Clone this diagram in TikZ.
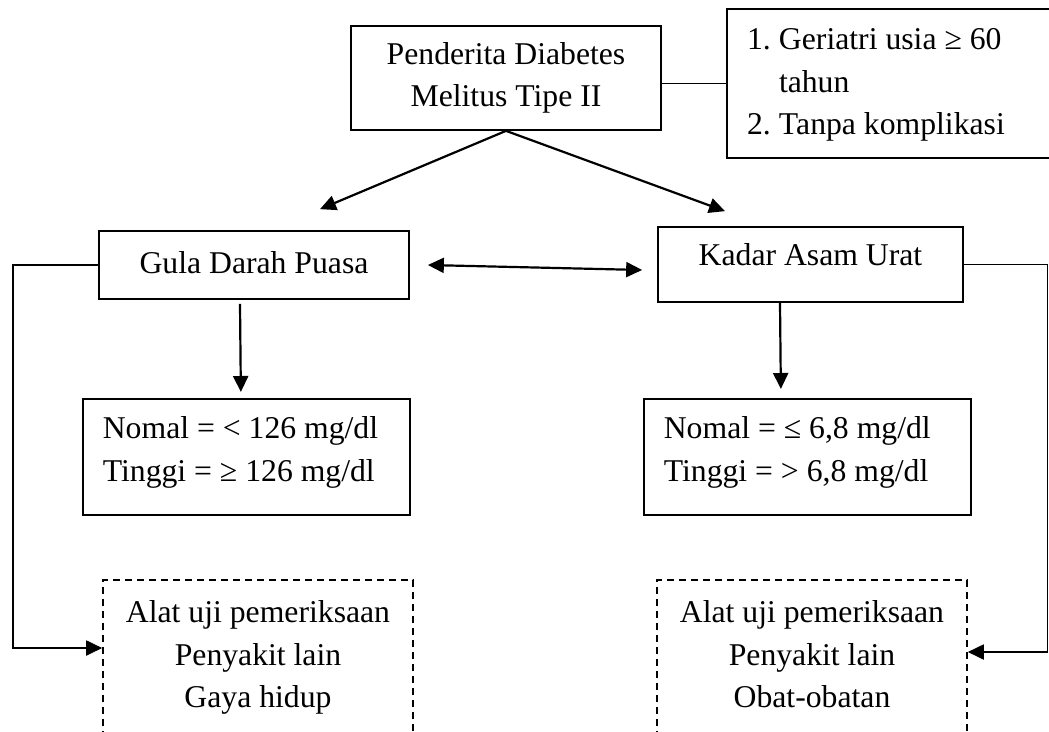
\documentclass[tikz,border=0pt]{standalone}
\usepackage{fontspec}
\setmainfont{Liberation Serif}
\usetikzlibrary{arrows.meta}
\begin{document}
\begin{tikzpicture}[x=1pt,y=-1pt,
  every node/.style={font=\fontsize{31.7pt}{42.5pt}\selectfont},
  box/.style={draw, line width=1.7pt, inner sep=0pt, align=center},
  lbox/.style={draw, line width=1.7pt, inner sep=0pt, anchor=north west, minimum width=327pt, minimum height=116pt},
  dbox/.style={draw, line width=1.6pt, dash pattern=on 7pt off 5pt, inner xsep=0pt, inner ysep=21pt, align=center, anchor=north, minimum width=310pt},
  tip/.tip={Triangle[length=16pt,width=15pt]},
  arr/.style={line width=2.2pt, -tip},
  darr/.style={line width=2.2pt, tip-tip},
  link/.style={line width=1.8pt},
  elbow/.style={line width=1.9pt, -tip, line join=miter},
]
\useasboundingbox (0,0) rectangle (1049,731);
\clip (0,0) rectangle (1049,731);
\fill[white] (0,0) rectangle (1049,731);

\node[box, minimum width=310pt, minimum height=104pt] (top) at (506,78) {Penderita Diabetes\\Melitus Tipe II};

\node[box, minimum width=360pt, minimum height=149pt] (crit) at (907,83.5)
  {\begin{tabular}{@{}p{32pt}@{}p{288pt}@{}}1. & Geriatri usia ≥ 60\\ & tahun\\ 2. & Tanpa komplikasi\end{tabular}};

\node[box, minimum width=310pt, minimum height=68pt, text depth=6pt] (gula) at (254,265) {Gula Darah Puasa};
\node[box, minimum width=305pt, minimum height=75pt, text depth=21pt] (kadar) at (810.5,264.5) {Kadar Asam Urat};

\node[lbox] (nomL) at (82,398)
  {\begin{tabular}{@{}p{287pt}@{}}Nomal = < 126 mg/dl\\Tinggi = ≥ 126 mg/dl\rule[-23pt]{0pt}{0pt}\end{tabular}};
\node[lbox] (nomR) at (643,398)
  {\begin{tabular}{@{}p{287pt}@{}}Nomal = ≤ 6,8 mg/dl\\Tinggi = > 6,8 mg/dl\rule[-23pt]{0pt}{0pt}\end{tabular}};

\node[dbox] (dashL) at (258,579) {Alat uji pemeriksaan\\Penyakit lain\\Gaya hidup\rule[-40pt]{0pt}{0pt}};
\node[dbox] (dashR) at (812,579) {Alat uji pemeriksaan\\Penyakit lain\\Obat-obatan\rule[-40pt]{0pt}{0pt}};

\coordinate (lbend) at (13,648);
\coordinate (rbend) at (1047.5,652);

\draw[link] (crit.west -| top.east) -- (crit.west);
\draw[arr] (top.south) -- ([xshift=66pt,yshift=21pt]gula.north);
\draw[arr] (top.south) -- ([xshift=-85.5pt,yshift=15pt]kadar.north);
\draw[darr] ([xshift=18pt]gula.east) -- ([xshift=-15pt,yshift=-5.5pt]kadar.west);
\draw[arr] ([xshift=-14pt,yshift=-4pt]gula.south) -- ([xshift=-5.5pt,yshift=6pt]nomL.north);
\draw[arr] ([xshift=-30.5pt]kadar.south) -- ([xshift=-26.5pt,yshift=9pt]nomR.north);
\draw[elbow] (gula.west) -| (lbend) -- (dashL.west |- lbend);
\draw[elbow] (kadar.east) -| (rbend) -- (dashR.east |- rbend);
\end{tikzpicture}
\end{document}
